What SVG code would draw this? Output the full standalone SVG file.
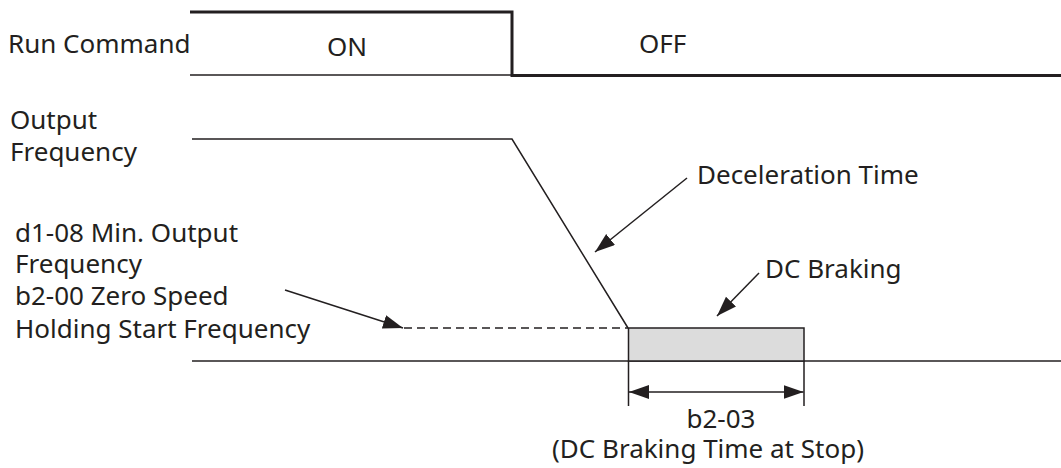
<svg xmlns="http://www.w3.org/2000/svg" width="1061" height="468" viewBox="0 0 1061 468">
<style>
text{font-family:"Noto Sans","Liberation Sans",sans-serif;font-size:26px;fill:#231f20}
.thin{stroke:#231f20;stroke-width:1.5;fill:none}
.thick{stroke:#231f20;stroke-width:3;fill:none}
.dash{stroke:#231f20;stroke-width:1.5;fill:none;stroke-dasharray:8 5}
.box{fill:#dcdcdc;stroke:#231f20;stroke-width:1.5}
</style>
<defs>
<marker id="ah" markerUnits="userSpaceOnUse" markerWidth="22" markerHeight="16" refX="20" refY="7" orient="auto-start-reverse">
<path d="M0,0 L20,7 L0,14 Z" fill="#231f20"/>
</marker>
</defs>
<rect width="1061" height="468" fill="#fff"/>
<g id="run-command">
<text x="8" y="53">Run Command</text>
<text x="327" y="56">ON</text>
<text x="639" y="53">OFF</text>
<path class="thick" d="M190,12 H512 V75.5 H1061"/>
<path class="thin" d="M190,75 H512" stroke="#555"/>
</g>
<g id="output-frequency">
<text x="10" y="129">Output</text>
<text x="10" y="161">Frequency</text>
<path class="thin" d="M192,139 H512 L628,328"/>
<path class="thin" d="M192,361 H1061"/>
</g>
<g id="min-output">
<text x="15" y="242">d1-08 Min. Output</text>
<text x="15" y="273">Frequency</text>
<text x="15" y="305">b2-00 Zero Speed</text>
<text x="15" y="338">Holding Start Frequency</text>
<path class="dash" d="M404,328 H628"/>
</g>
<g id="dc-braking">
<rect class="box" x="628.5" y="328" width="175.5" height="33"/>
<text x="765" y="278">DC Braking</text>
</g>
<g id="deceleration">
<text x="697" y="184">Deceleration Time</text>
</g>
<g id="b2-03">
<path class="thin" d="M628.5,361 V406 M804,361 V406"/>
<text x="721" y="428" text-anchor="middle">b2-03</text>
<text x="708" y="458" text-anchor="middle">(DC Braking Time at Stop)</text>
</g>
<g id="connectors">
<line class="thin" x1="687" y1="178" x2="595" y2="252" marker-end="url(#ah)"/>
<line class="thin" x1="759" y1="273" x2="717" y2="316" marker-end="url(#ah)"/>
<line class="thin" x1="285" y1="290" x2="403" y2="328" marker-end="url(#ah)"/>
<line class="thin" x1="629" y1="392" x2="803.5" y2="392" marker-start="url(#ah)" marker-end="url(#ah)"/>
</g>
</svg>
